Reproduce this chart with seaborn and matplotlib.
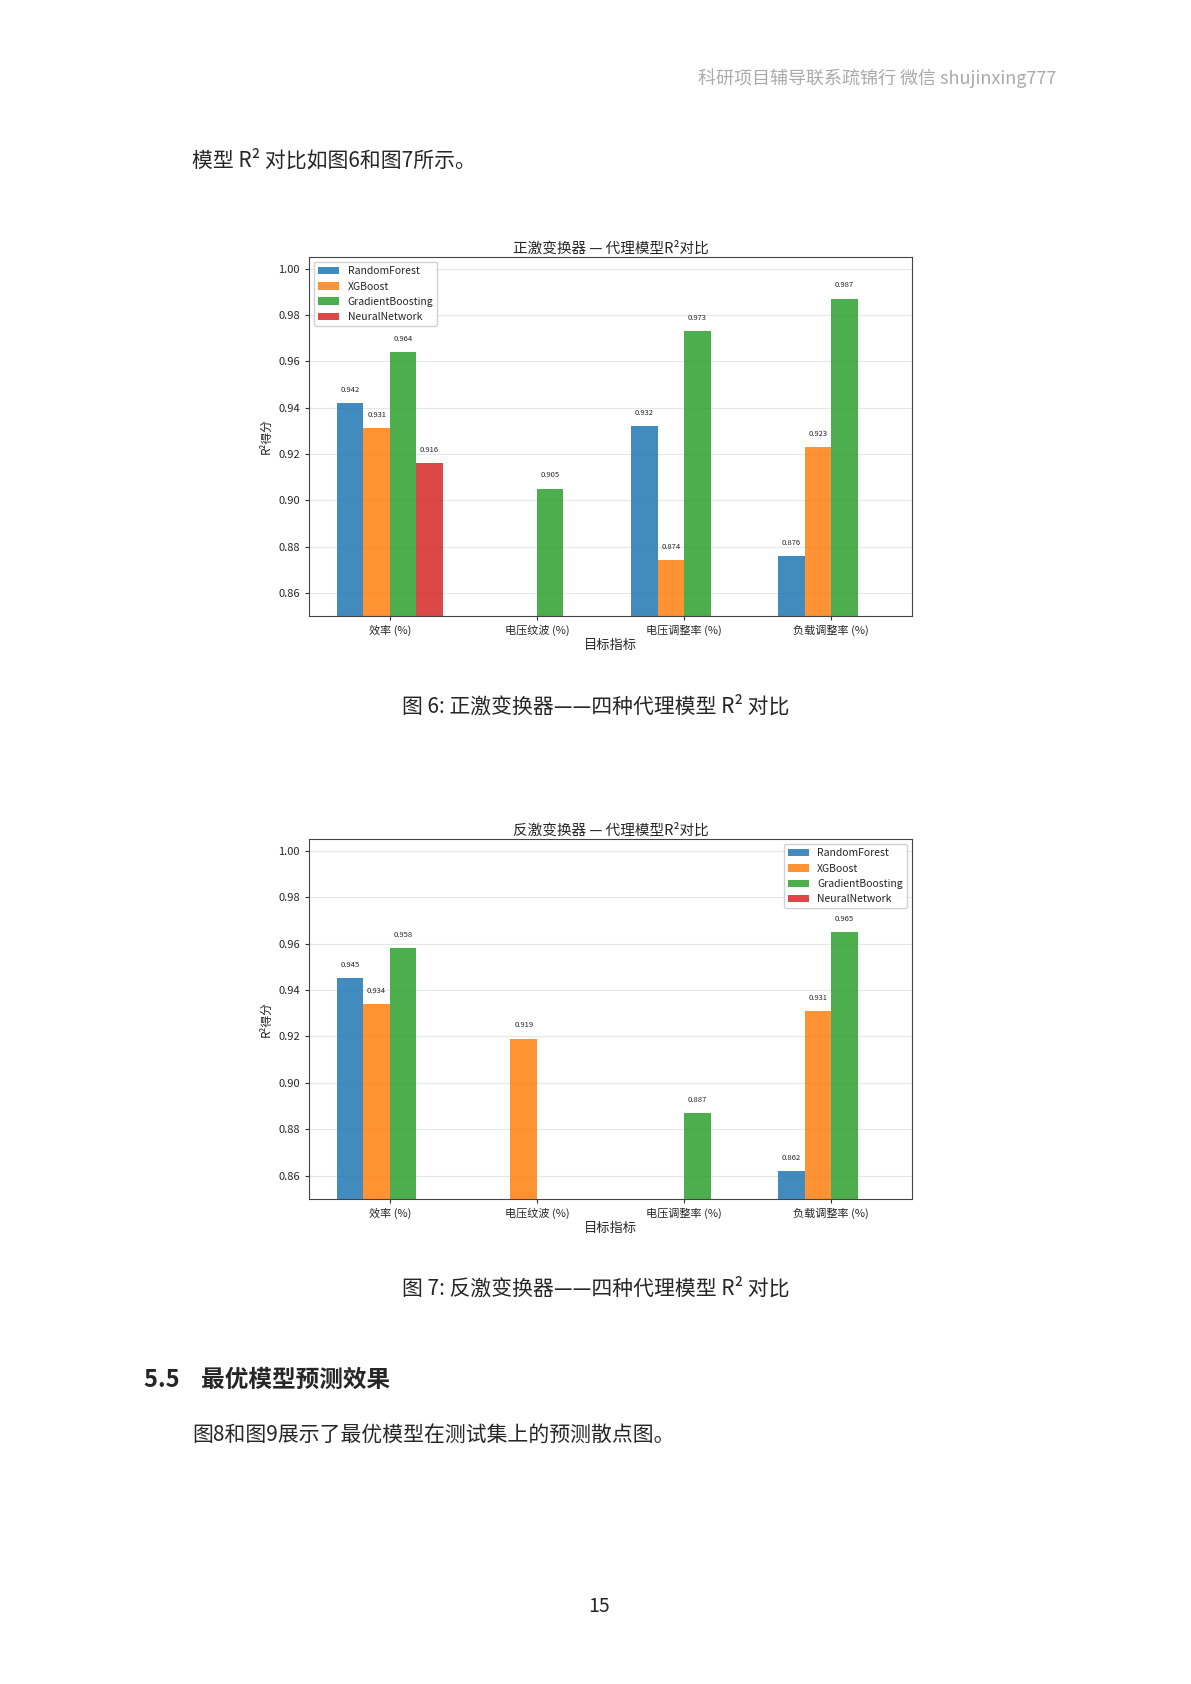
import matplotlib
matplotlib.use("Agg")
import matplotlib.pyplot as plt
import seaborn as sns
import pandas as pd

sns.set_style("white")
plt.rcParams['font.family'] = ['Noto Sans CJK SC', 'DejaVu Sans']

categories = ["效率 (%)", "电压纹波 (%)", "电压调整率 (%)", "负载调整率 (%)"]
models = ["RandomForest", "XGBoost", "GradientBoosting", "NeuralNetwork"]
# values below 0.85 are not visible in the reference (estimated)
forward_rf = [0.942, 0.80, 0.932, 0.876]
forward_xgb = [0.931, 0.80, 0.874, 0.923]
forward_gb = [0.964, 0.905, 0.973, 0.987]
forward_nn = [0.916, 0.80, 0.80, 0.80]
flyback_rf = [0.945, 0.80, 0.80, 0.862]
flyback_xgb = [0.934, 0.919, 0.80, 0.931]
flyback_gb = [0.958, 0.80, 0.887, 0.965]
flyback_nn = [0.80, 0.80, 0.80, 0.80]
palette = ["#1f77b4", "#ff7f0e", "#2ca02c", "#d62728"]

W, H = 1191, 1684
fig = plt.figure(figsize=(W/100, H/100), dpi=100)

def draw(rect, title, series, legend_loc):
    ax = fig.add_axes([rect[0]/W, 1-rect[3]/H, (rect[2]-rect[0])/W, (rect[3]-rect[1])/H])
    rows = []
    for m, vals in zip(models, series):
        for c, v in zip(categories, vals):
            rows.append({"cat": c, "model": m, "val": v})
    df = pd.DataFrame(rows)
    sns.barplot(data=df, x="cat", y="val", hue="model", hue_order=models, order=categories,
                palette=palette, alpha=0.85, width=0.72, ax=ax, errorbar=None, saturation=1,
                linewidth=0)
    for cont in ax.containers:
        for bar in cont:
            h = bar.get_height()
            if h > 0.85:
                ax.text(bar.get_x()+bar.get_width()/2, h+0.004, f"{h:.3f}",
                        ha="center", va="bottom", fontsize=5.5)
    ax.set_ylim(0.85, 1.005)
    ax.set_xlim(-0.55, 3.55)
    ax.set_yticks([0.86, 0.88, 0.90, 0.92, 0.94, 0.96, 0.98, 1.00])
    ax.set_yticklabels([f"{t:.2f}" for t in ax.get_yticks()], fontsize=8)
    ax.tick_params(axis='x', labelsize=8)
    ax.tick_params(axis='both', length=3, left=True, bottom=True, color="#333")
    ax.grid(axis='y', color="#e6e6e6", linewidth=0.8)
    ax.set_axisbelow(True)
    for s in ax.spines.values():
        s.set_color("#444")
    ax.set_title(title, fontsize=10.5, pad=3)
    ax.set_xlabel("目标指标", fontsize=9.5, labelpad=2)
    ax.set_ylabel("R²得分", fontsize=8.5)
    ax.legend(loc=legend_loc, fontsize=7.5, framealpha=0.9)
    return ax

draw((309, 257, 912, 616), "正激变换器 — 代理模型R²对比",
     [forward_rf, forward_xgb, forward_gb, forward_nn], "upper left")
draw((309, 839, 912, 1199), "反激变换器 — 代理模型R²对比",
     [flyback_rf, flyback_xgb, flyback_gb, flyback_nn], "upper right")

def t(x, y, s, **kw):
    fig.text(x/W, 1-y/H, s, **kw)

t(1056, 78, "科研项目辅导联系疏锦行 微信 shujinxing777", ha="right", va="center",
  fontsize=13, color="#aaaaaa", style="italic")
t(192, 160, "模型 R² 对比如图6和图7所示。", va="center", fontsize=15)
t(596, 707, "图 6: 正激变换器——四种代理模型 R² 对比", ha="center", va="center", fontsize=15)
t(596, 1289, "图 7: 反激变换器——四种代理模型 R² 对比", ha="center", va="center", fontsize=15)
t(144, 1380, "5.5    最优模型预测效果", va="center", fontsize=17, fontweight="bold")
t(192, 1435, "图8和图9展示了最优模型在测试集上的预测散点图。", va="center", fontsize=15)
t(599, 1606, "15", ha="center", va="center", fontsize=14)

fig.savefig("out.png", dpi=100)
